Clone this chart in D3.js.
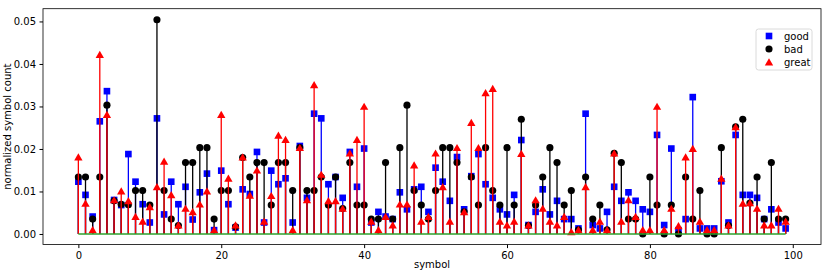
<!DOCTYPE html>
<html>
<head>
<meta charset="utf-8">
<script src="https://cdn.jsdelivr.net/npm/d3@7"></script>
<style>
  body { margin: 0; background: #fff; }
  svg text { font-family: "DejaVu Sans", sans-serif; }
</style>
</head>
<body>
<svg id="chart" width="830" height="277"></svg>
<script>
// normalized symbol counts, symbols 0..99
const symbols = d3.range(100);

const good = [
  0.0123, 0.0092, 0.0041, 0.0265, 0.0336, 0.0080, 0.0068, 0.0188, 0.0123, 0.0070,
  0.0027, 0.0272, 0.0046, 0.0123, 0.0070, 0.0111, 0.0034, 0.0098, 0.0142, 0.0009,
  0.0149, 0.0070, 0.0015, 0.0105, 0.0094, 0.0193, 0.0027, 0.0149, 0.0117, 0.0131,
  0.0027, 0.0207, 0.0085, 0.0283, 0.0272, 0.0117, 0.0134, 0.0085, 0.0193, 0.0111,
  0.0201, 0.0027, 0.0052, 0.0041, 0.0035, 0.0098, 0.0058, 0.0105, 0.0111, 0.0052,
  0.0156, 0.0123, 0.0078, 0.0181, 0.0058, 0.0136, 0.0188, 0.0117, 0.0085, 0.0058,
  0.0046, 0.0092, 0.0221, 0.0021, 0.0052, 0.0105, 0.0046, 0.0078, 0.0035, 0.0035,
  0.0013, 0.0283, 0.0021, 0.0013, 0.0052, 0.0111, 0.0078, 0.0098, 0.0078, 0.0058,
  0.0052, 0.0233, 0.0021, 0.0201, 0.0009, 0.0035, 0.0322, 0.0013, 0.0013, 0.0013,
  0.0124, 0.0027, 0.0233, 0.0092, 0.0092, 0.0085, 0.0035, 0.0058, 0.0027, 0.0013
];

const bad = [
  0.0134, 0.0134, 0.0035, 0.0134, 0.0303, 0.0078, 0.0070, 0.0069, 0.0102, 0.0102,
  0.0068, 0.0504, 0.0102, 0.0035, 0.0020, 0.0168, 0.0168, 0.0203, 0.0203, 0.0035,
  0.0102, 0.0102, 0.0017, 0.0180, 0.0134, 0.0168, 0.0168, 0.0068, 0.0168, 0.0168,
  0.0102, 0.0203, 0.0102, 0.0102, 0.0134, 0.0068, 0.0134, 0.0060, 0.0168, 0.0068,
  0.0068, 0.0035, 0.0035, 0.0168, 0.0035, 0.0203, 0.0303, 0.0102, 0.0068, 0.0035,
  0.0102, 0.0203, 0.0203, 0.0168, 0.0052, 0.0134, 0.0068, 0.0203, 0.0102, 0.0068,
  0.0203, 0.0068, 0.0270, 0.0020, 0.0068, 0.0134, 0.0203, 0.0168, 0.0068, 0.0102,
  0.0010, 0.0134, 0.0035, 0.0068, 0.0010, 0.0190, 0.0168, 0.0035, 0.0035, 0.0000,
  0.0134, 0.0068, 0.0000, 0.0068, 0.0000, 0.0134, 0.0035, 0.0102, 0.0000, 0.0000,
  0.0203, 0.0020, 0.0252, 0.0270, 0.0073, 0.0134, 0.0035, 0.0168, 0.0035, 0.0035
];

const great = [
  0.0181, 0.0072, 0.0010, 0.0422, 0.0281, 0.0080, 0.0101, 0.0078, 0.0041, 0.0030,
  0.0064, 0.0111, 0.0171, 0.0092, 0.0021, 0.0060, 0.0052, 0.0070, 0.0101, 0.0010,
  0.0281, 0.0131, 0.0021, 0.0181, 0.0091, 0.0150, 0.0030, 0.0090, 0.0232, 0.0222,
  0.0010, 0.0203, 0.0080, 0.0351, 0.0140, 0.0078, 0.0078, 0.0060, 0.0190, 0.0222,
  0.0300, 0.0030, 0.0010, 0.0041, 0.0021, 0.0070, 0.0070, 0.0162, 0.0030, 0.0041,
  0.0190, 0.0111, 0.0030, 0.0203, 0.0052, 0.0262, 0.0203, 0.0332, 0.0342, 0.0030,
  0.0021, 0.0030, 0.0189, 0.0021, 0.0080, 0.0060, 0.0030, 0.0021, 0.0041, 0.0005,
  0.0010, 0.0111, 0.0010, 0.0030, 0.0010, 0.0190, 0.0030, 0.0080, 0.0041, 0.0010,
  0.0010, 0.0300, 0.0010, 0.0060, 0.0019, 0.0181, 0.0201, 0.0030, 0.0010, 0.0010,
  0.0131, 0.0021, 0.0252, 0.0072, 0.0073, 0.0060, 0.0021, 0.0021, 0.0060, 0.0030
];

const seriesNames = ["good", "bad", "great"];
const xTicks = [0, 20, 40, 60, 80, 100];
const yTicks = [0, 0.01, 0.02, 0.03, 0.04, 0.05];

const series = [
  { name: "good", values: good, color: "#0000ff", shape: d3.symbolSquare, size: 44 },
  { name: "bad", values: bad, color: "#000000", shape: d3.symbolCircle, size: 40 },
  { name: "great", values: great, color: "#ff0000", shape: d3.symbolTriangle, size: 30 }
];

const plotLeft = 43, plotRight = 821, plotTop = 8.7, plotBottom = 244.6;
const svg = d3.select("#chart");

const x = d3.scaleLinear().domain([-4.95, 103.95]).range([plotLeft, plotRight]);
const y = d3.scaleLinear().domain([-0.0025, 0.053]).range([plotBottom, plotTop]);

// stems + markers, one series after another like plt.stem
series.forEach(s => {
  const g = svg.append("g").attr("class", "stem-" + s.name);
  g.selectAll("line")
    .data(s.values)
    .join("line")
      .attr("x1", (d, i) => x(symbols[i]))
      .attr("x2", (d, i) => x(symbols[i]))
      .attr("y1", y(0))
      .attr("y2", d => y(d))
      .attr("stroke", s.color)
      .attr("stroke-width", 1.3);
  g.selectAll("path")
    .data(s.values)
    .join("path")
      .attr("d", d3.symbol().type(s.shape).size(s.size))
      .attr("transform", (d, i) => {
        const dy = s.shape === d3.symbolTriangle ? 1 : 0;
        return `translate(${x(symbols[i])},${y(d) + dy})`;
      })
      .attr("fill", s.color);
});

// baseline
svg.append("line")
  .attr("x1", x(0)).attr("x2", x(99))
  .attr("y1", y(0)).attr("y2", y(0))
  .attr("stroke", "#2ca02c")
  .attr("stroke-width", 1.5);

// axes
const xAxis = d3.axisBottom(x).tickValues(xTicks).tickSize(3.5).tickPadding(3.5);
svg.append("g")
  .attr("transform", `translate(0,${plotBottom})`)
  .call(xAxis)
  .call(g => g.select(".domain").remove())
  .call(g => g.selectAll("text").attr("font-size", 10).attr("fill", "#000"));

const yAxis = d3.axisLeft(y).tickValues(yTicks).tickFormat(d3.format(".2f")).tickSize(3.5).tickPadding(3.5);
svg.append("g")
  .attr("transform", `translate(${plotLeft},0)`)
  .call(yAxis)
  .call(g => g.select(".domain").remove())
  .call(g => g.selectAll("text").attr("font-size", 10).attr("fill", "#000"));

// frame
svg.append("rect")
  .attr("x", plotLeft).attr("y", plotTop)
  .attr("width", plotRight - plotLeft).attr("height", plotBottom - plotTop)
  .attr("fill", "none")
  .attr("stroke", "#000")
  .attr("stroke-width", 0.8);

svg.append("text")
  .attr("x", (plotLeft + plotRight) / 2).attr("y", 268)
  .attr("text-anchor", "middle")
  .attr("font-size", 10)
  .text("symbol");

svg.append("text")
  .attr("transform", `translate(11,${(plotTop + plotBottom) / 2}) rotate(-90)`)
  .attr("text-anchor", "middle")
  .attr("font-size", 10)
  .text("normalized symbol count");

// legend
const lg = svg.append("g").attr("transform", "translate(756,29)");
lg.append("rect")
  .attr("width", 56).attr("height", 41).attr("rx", 2.5)
  .attr("fill", "#fff").attr("fill-opacity", 0.8)
  .attr("stroke", "#d0d0d0").attr("stroke-width", 0.8);
series.forEach((s, i) => {
  const cy = 7 + i * 13;
  lg.append("path")
    .attr("d", d3.symbol().type(s.shape).size(s.size))
    .attr("transform", `translate(13,${cy + (s.shape === d3.symbolTriangle ? 1 : 0)})`)
    .attr("fill", s.color);
  lg.append("text")
    .attr("x", 28).attr("y", cy + 3.5)
    .attr("font-size", 10)
    .text(seriesNames[i]);
});
</script>
</body>
</html>
